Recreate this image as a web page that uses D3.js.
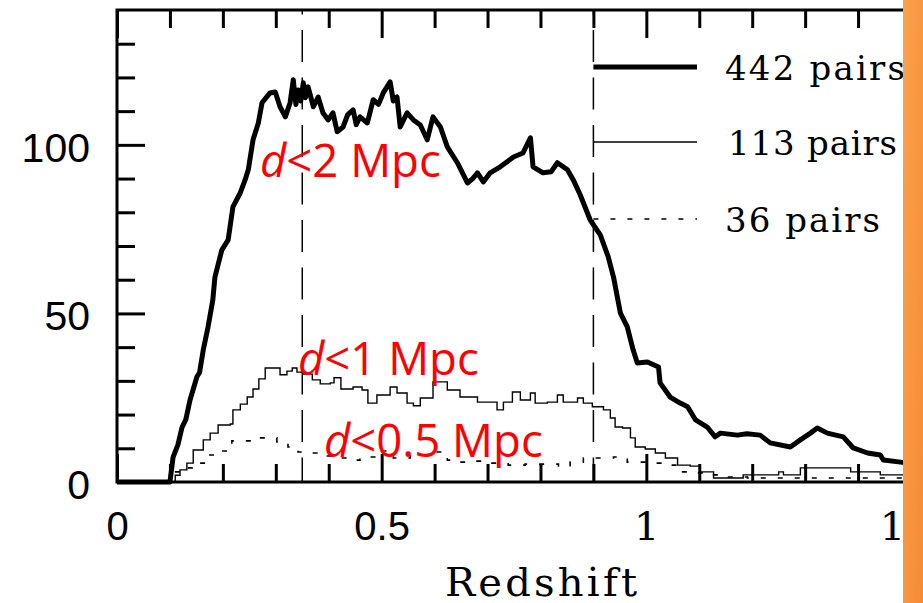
<!DOCTYPE html>
<html>
<head>
<meta charset="utf-8">
<script src="https://cdn.jsdelivr.net/npm/d3@7"></script>
<style>
  body { margin: 0; background: #fff; }
  svg { display: block; }
</style>
</head>
<body>
<svg id="chart" width="923" height="603"></svg>
<script>
// pair counts per redshift, d<2 Mpc (442 pairs)
const pairs442 = [
  [0, 0], [0.100, 0], [0.106, 7.4], [0.115, 11], [0.123, 16.3], [0.130, 18.5],
  [0.138, 24.3], [0.151, 31.2], [0.156, 32.5], [0.163, 39.2], [0.172, 46],
  [0.181, 54], [0.185, 60.8], [0.198, 68.8], [0.210, 71.8], [0.219, 81.6],
  [0.233, 85.8], [0.242, 89.6], [0.248, 92.6], [0.257, 101.5], [0.267, 106.5],
  [0.274, 112.5], [0.289, 115.4], [0.299, 115.7], [0.308, 111.3], [0.318, 108.3],
  [0.327, 112.5], [0.333, 119.3], [0.338, 112], [0.342, 116.3], [0.347, 113],
  [0.352, 118.4], [0.356, 114], [0.361, 117.2], [0.371, 111.3], [0.380, 114.2],
  [0.389, 109.5], [0.399, 107.4], [0.408, 109.5], [0.416, 103.9], [0.427, 105.3],
  [0.436, 109], [0.446, 110.4], [0.452, 106], [0.459, 108.3], [0.473, 106.5],
  [0.484, 113.4], [0.494, 112], [0.503, 115.4], [0.516, 118.7], [0.522, 113],
  [0.529, 114.2], [0.535, 105.3], [0.548, 109.5], [0.560, 107.4], [0.573, 105.9],
  [0.586, 101.5], [0.597, 108.3], [0.611, 105.3], [0.624, 99.4], [0.643, 94.7],
  [0.662, 88.7], [0.672, 90], [0.681, 91.7], [0.692, 89], [0.705, 91.7],
  [0.724, 93.5], [0.737, 95], [0.749, 96.4], [0.767, 97.6], [0.781, 102.1],
  [0.786, 93.5], [0.805, 91.7], [0.820, 92], [0.832, 94.7], [0.851, 92.6],
  [0.862, 89.6], [0.875, 85.2], [0.894, 77.7], [0.913, 73.3], [0.928, 66.8],
  [0.938, 60.8], [0.951, 50.1], [0.964, 46], [0.975, 39.2], [0.983, 35.3],
  [1.002, 35.6], [1.023, 34.1], [1.026, 29.4], [1.045, 25.2], [1.064, 23.4],
  [1.078, 22.3], [1.093, 18.4], [1.115, 16.3], [1.130, 13.4], [1.140, 14.5],
  [1.172, 13.9], [1.190, 14.3], [1.215, 13.9], [1.234, 11.6], [1.272, 10.4],
  [1.291, 12.5], [1.310, 14.5], [1.323, 16], [1.342, 14.5], [1.372, 13.4],
  [1.391, 10.1], [1.418, 8.6], [1.442, 8.0], [1.448, 6.5], [1.480, 5.9], [1.500, 5.5]
];

// d<1 Mpc (113 pairs), histogram steps
const pairs113 = [
  [0, 0], [0.100, 0], [0.110, 2], [0.119, 3.6], [0.132, 5.6], [0.144, 9.5],
  [0.163, 12.5], [0.176, 14.5], [0.191, 16.9], [0.214, 17.2], [0.219, 21.4],
  [0.233, 23.1], [0.246, 25.2], [0.257, 27.6], [0.268, 30.6], [0.280, 33.8],
  [0.299, 33.8], [0.308, 31.8], [0.321, 32.9], [0.331, 33.8], [0.340, 32.6],
  [0.352, 32], [0.369, 30.3], [0.384, 29.1], [0.403, 29.4], [0.410, 30.9],
  [0.423, 27.6], [0.446, 28.2], [0.463, 27.3], [0.474, 23.4], [0.491, 25.8],
  [0.516, 28.2], [0.529, 26.4], [0.548, 23.4], [0.560, 22.6], [0.573, 24.9],
  [0.597, 29.7], [0.624, 27.3], [0.648, 25.2], [0.681, 23.7], [0.718, 21.4],
  [0.730, 23.7], [0.747, 26.7], [0.762, 24.3], [0.781, 26.4], [0.790, 23.4],
  [0.813, 23.7], [0.832, 25.8], [0.843, 23.7], [0.870, 24.9], [0.881, 23.4],
  [0.898, 22.3], [0.919, 21.4], [0.932, 19], [0.941, 16.3], [0.955, 16],
  [0.970, 13.1], [0.979, 10.4], [0.998, 9.8], [1.017, 8.6], [1.036, 7.1],
  [1.059, 5], [1.083, 4.7], [1.102, 3], [1.127, 1.2], [1.178, 1.2],
  [1.183, 2.1], [1.244, 2.1], [1.250, 3], [1.259, 2.1], [1.287, 2.1],
  [1.291, 4.2], [1.380, 4.2], [1.386, 3], [1.439, 3], [1.442, 2.1], [1.500, 2.1]
];

// d<0.5 Mpc (36 pairs)
const pairs36 = [
  [0, 0], [0.100, 0], [0.106, 3], [0.119, 4.2], [0.142, 5.6], [0.170, 8],
  [0.200, 9.2], [0.217, 12.2], [0.257, 13.1], [0.295, 13.1], [0.302, 11.9],
  [0.323, 10.4], [0.342, 8.9], [0.359, 8.6], [0.384, 7.7], [0.408, 7.1],
  [0.440, 6.5], [0.459, 7.4], [0.497, 9.2], [0.522, 7.1], [0.554, 8],
  [0.597, 8.9], [0.624, 6.5], [0.648, 5.9], [0.677, 6.2], [0.705, 5.6],
  [0.739, 5], [0.771, 5.3], [0.800, 5.3], [0.834, 4.5], [0.856, 5.9],
  [0.881, 7.1], [0.913, 7.1], [0.938, 7.4], [0.964, 5.9], [0.998, 5.6],
  [1.040, 5], [1.064, 3], [1.083, 2.7], [1.108, 2.1], [1.140, 1.5],
  [1.191, 1.2], [1.500, 1.2]
];

const markerLines = [0.35, 0.9];
const xMajorTicks = [0, 0.5, 1, 1.5];
const xTickLabels = ['0', '0.5', '1', '1.5'];
const xMinorTicks = [0.1, 0.2, 0.3, 0.4, 0.6, 0.7, 0.8, 0.9, 1.1, 1.2, 1.3, 1.4];
const yMajorTicks = [0, 50, 100];
const yMinorTicks = [10, 20, 30, 40, 60, 70, 80, 90, 110, 120, 130];
const legendLabels = ['442 pairs', '113 pairs', '36 pairs'];
const curveLabels = ['<2 Mpc', '<1 Mpc', '<0.5 Mpc'];

const svg = d3.select('#chart');
const plotL = 117, plotR = 911, plotT = 10, plotB = 482;

const x = d3.scaleLinear().domain([0, 1.5]).range([plotL, plotR]);
const y = d3.scaleLinear().domain([0, 140]).range([plotB, plotT]);

// ticks, all pointing inward
function tickAxis(axis, values, size, transform) {
  const g = svg.append('g').attr('transform', transform)
    .call(axis.tickValues(values).tickSize(-size).tickSizeOuter(0).tickFormat(''));
  g.select('.domain').remove();
  g.selectAll('.tick line').attr('stroke', '#000').attr('stroke-width', 3);
}
tickAxis(d3.axisBottom(x), xMinorTicks, 18, `translate(0,${plotB})`);
tickAxis(d3.axisBottom(x), xMajorTicks, 28, `translate(0,${plotB})`);
tickAxis(d3.axisTop(x), xMinorTicks, 18, `translate(0,${plotT})`);
tickAxis(d3.axisTop(x), xMajorTicks, 28, `translate(0,${plotT})`);
tickAxis(d3.axisLeft(y), yMinorTicks, 18, `translate(${plotL},0)`);
tickAxis(d3.axisLeft(y), yMajorTicks, 28, `translate(${plotL},0)`);

// frame
svg.append('rect')
  .attr('x', plotL).attr('y', plotT)
  .attr('width', plotR - plotL).attr('height', plotB - plotT)
  .attr('fill', 'none').attr('stroke', '#000').attr('stroke-width', 3);

// tick labels
const xl = svg.append('g').attr('transform', `translate(0,${plotB})`)
  .call(d3.axisBottom(x).tickValues(xMajorTicks).tickSize(0).tickPadding(29.5)
    .tickFormat((d, i) => xTickLabels[i]));
xl.select('.domain').remove();
xl.selectAll('text')
  .attr('fill', '#000')
  .style('font-family', d => d >= 1 ? '"DejaVu Serif", serif' : '"Liberation Sans", Arial, sans-serif')
  .style('font-size', '40px');

const yl = svg.append('g').attr('transform', `translate(${plotL},0)`)
  .call(d3.axisLeft(y).tickValues(yMajorTicks).tickSize(0).tickPadding(27));
yl.select('.domain').remove();
yl.selectAll('text')
  .attr('fill', '#000').attr('dy', '0.4em')
  .style('font-family', '"Liberation Sans", Arial, sans-serif')
  .style('font-size', '41px');

svg.append('text')
  .attr('x', 445).attr('y', 596)
  .attr('textLength', 192).attr('lengthAdjust', 'spacing')
  .style('font-family', '"DejaVu Serif", serif').style('font-size', '40px')
  .text('Redshift');

// dashed marker lines
svg.selectAll('line.marker').data(markerLines).join('line')
  .attr('class', 'marker')
  .attr('x1', d => x(d)).attr('x2', d => x(d))
  .attr('y1', plotT).attr('y2', plotB)
  .attr('stroke', '#000').attr('stroke-width', 1.5)
  .attr('stroke-dasharray', '32,15.5').attr('stroke-dashoffset', 27.5);

// curves
const lineLin = d3.line().x(d => x(d[0])).y(d => y(d[1]));
const lineStep = d3.line().x(d => x(d[0])).y(d => y(d[1])).curve(d3.curveStepAfter);

svg.append('path').datum(pairs36)
  .attr('fill', 'none').attr('stroke', '#000').attr('stroke-width', 1.6)
  .attr('stroke-dasharray', '5,12').attr('d', lineStep);

svg.append('path').datum(pairs113)
  .attr('fill', 'none').attr('stroke', '#000').attr('stroke-width', 1.4)
  .attr('d', lineStep);

svg.append('path').datum(pairs442)
  .attr('fill', 'none').attr('stroke', '#000').attr('stroke-width', 5)
  .attr('stroke-linejoin', 'round').attr('d', lineLin);

// legend
const legendY = [67, 142, 219];
const legendStyle = [
  { w: 5, dash: null },
  { w: 1.4, dash: null },
  { w: 1.6, dash: '5,12' }
];
const legendTextLen = [180, 169, 155];
const legendTextX = [725, 728, 725];
legendLabels.forEach((lab, i) => {
  svg.append('line')
    .attr('x1', x(0.9)).attr('x2', 697)
    .attr('y1', legendY[i]).attr('y2', legendY[i])
    .attr('stroke', '#000').attr('stroke-width', legendStyle[i].w)
    .attr('stroke-dasharray', legendStyle[i].dash);
  svg.append('text')
    .attr('x', legendTextX[i]).attr('y', legendY[i] + 13)
    .attr('textLength', legendTextLen[i]).attr('lengthAdjust', 'spacing')
    .style('font-family', '"DejaVu Serif", serif').style('font-size', '34px')
    .text(lab);
});

// red annotations
const labelPos = [[260, 177], [298, 375], [324, 457]];
curveLabels.forEach((lab, i) => {
  const t = svg.append('text')
    .attr('x', labelPos[i][0]).attr('y', labelPos[i][1])
    .attr('fill', '#ff0000')
    .style('font-family', '"Open Sans", "Noto Sans", sans-serif')
    .style('font-size', '45.5px');
  t.append('tspan').style('font-style', 'italic').text('d');
  t.append('tspan').text(lab);
});

// orange strip at the right edge
const defs = svg.append('defs');
const grad = defs.append('linearGradient').attr('id', 'strip')
  .attr('x1', '0%').attr('x2', '100%').attr('y1', '0%').attr('y2', '100%');
grad.append('stop').attr('offset', '0%').attr('stop-color', '#f9a24d');
grad.append('stop').attr('offset', '50%').attr('stop-color', '#f8963f');
grad.append('stop').attr('offset', '100%').attr('stop-color', '#f58a36');
svg.append('rect')
  .attr('x', 903).attr('y', 0).attr('width', 20).attr('height', 603)
  .attr('fill', 'url(#strip)');
</script>
</body>
</html>
